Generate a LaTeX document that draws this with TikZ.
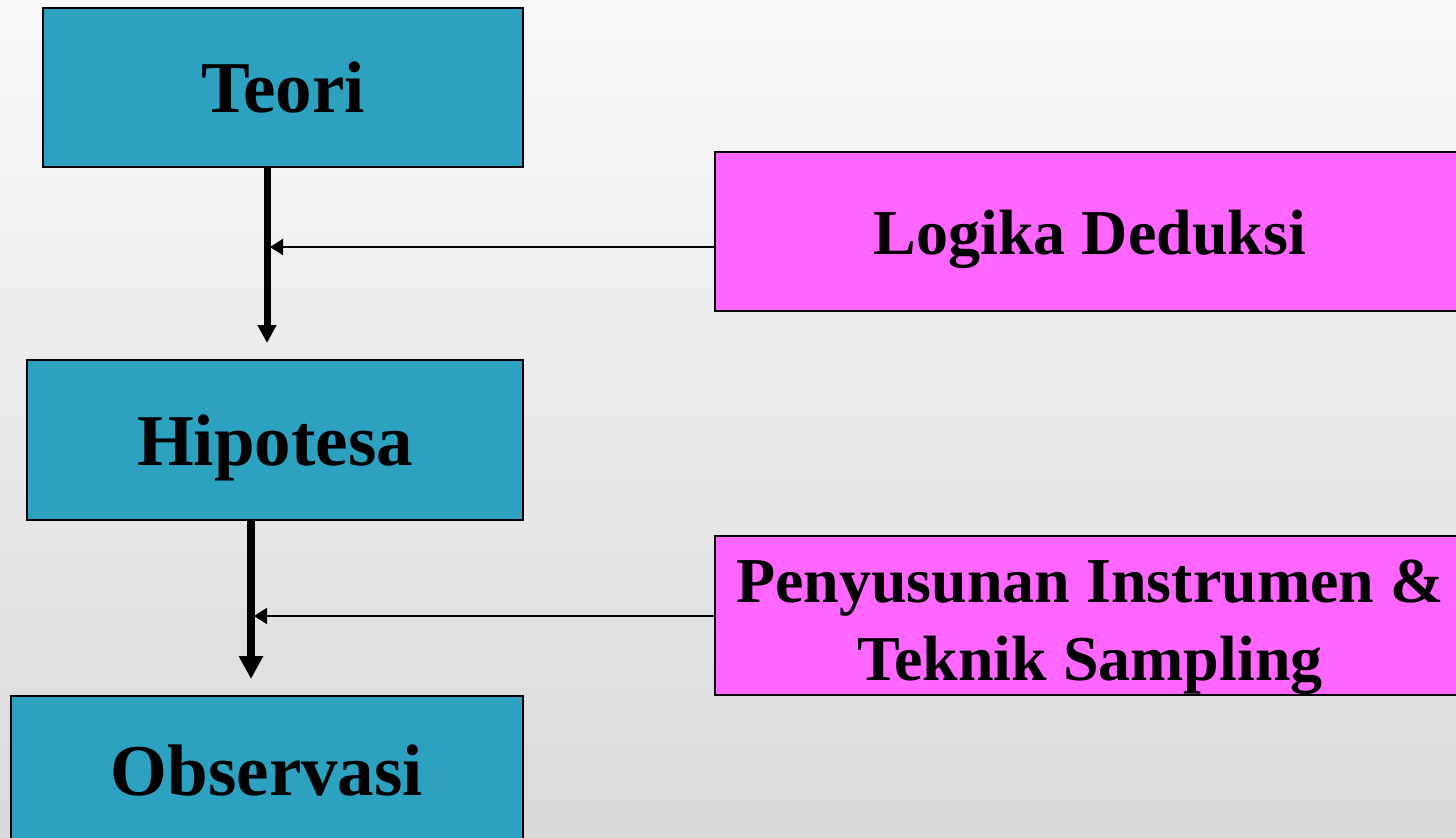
\documentclass[tikz,border=0pt]{standalone}
\usepackage{fontspec}
\setmainfont{Liberation Serif}
\usetikzlibrary{arrows.meta}
\definecolor{teal2}{RGB}{44,162,192}
\definecolor{pink2}{RGB}{255,102,255}
\definecolor{bgtop}{RGB}{249,249,249}
\definecolor{bgbot}{RGB}{218,218,218}
\tikzset{
  bluebox/.style={draw=black, line width=1pt, fill=teal2, inner sep=0pt, align=center,
    font=\fontsize{36.5}{44}\selectfont\bfseries, text height=25pt, text depth=0pt},
  pinkbox/.style={draw=black, line width=1pt, fill=pink2, inner sep=0pt, align=center,
    font=\fontsize{32}{39}\selectfont\bfseries},
  mainarrow/.style={draw=black, line width=3.5pt, -{Triangle[width=9pt,length=9pt]}},
  mainarrowb/.style={draw=black, line width=4pt, -{Triangle[width=11.5pt,length=11.5pt]}},
  sidearrow/.style={draw=black, line width=1pt, -{Triangle[width=8pt,length=6.5pt]}},
}
\begin{document}
\begin{tikzpicture}[x=0.5pt, y=-0.5pt]
\useasboundingbox (0,0) rectangle (1456,837);
\shade[top color=bgtop, bottom color=bgbot] (0,0) rectangle (1456,837);
\clip (0,0) rectangle (1456,837);
\node[bluebox, minimum width=240pt, minimum height=79.5pt] (teori) at (283,87.5) {Teori};
\node[bluebox, minimum width=248pt, minimum height=80pt] (hip) at (275,440) {Hipotesa};
\node[bluebox, minimum width=256pt, minimum height=80pt, text depth=6pt] (obs) at (267,776) {Observasi};
\node[pinkbox, minimum width=375pt, minimum height=79.5pt, text height=22.5pt, text depth=0pt] (log) at (1090,231.5) {Logika Deduksi};
\node[pinkbox, minimum width=375pt, minimum height=79.5pt, text height=64.5pt, text depth=0pt] (pen) at (1090,615.5) {Penyusunan Instrumen \&\\Teknik Sampling};
\coordinate (t1) at (267,343);
\coordinate (h1) at (251,679);
\coordinate (l1) at (270,247);
\coordinate (p1) at (254,616);
\draw[mainarrow] (teori.south -| t1) -- (t1);
\draw[mainarrowb] (hip.south -| h1) -- (h1);
\draw[sidearrow] (log.west |- l1) -- (l1);
\draw[sidearrow] (pen.west |- p1) -- (p1);
\end{tikzpicture}
\end{document}
